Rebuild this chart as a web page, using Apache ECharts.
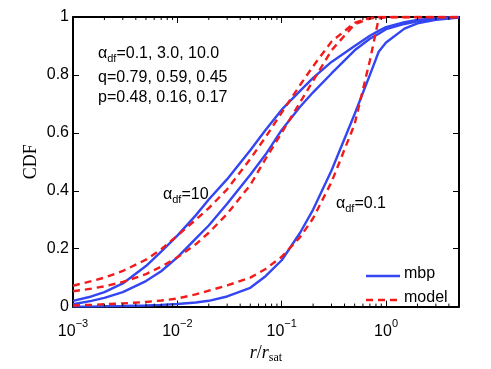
<!DOCTYPE html>
<html>
<head>
<meta charset="utf-8">
<script src="https://cdn.jsdelivr.net/npm/echarts@6/dist/echarts.min.js"></script>
<style>
  html, body { margin: 0; padding: 0; background: #fff; }
  #main { width: 491px; height: 369px; }
</style>
</head>
<body>
<div id="main"></div>
<script>
  // r / r_sat sample positions (shared by all curves)
  var rGrid = [0.001, 0.0015, 0.002, 0.003, 0.005, 0.007,
               0.01, 0.015, 0.02, 0.03, 0.05, 0.07,
               0.1, 0.15, 0.2, 0.3, 0.5, 0.7, 0.85,
               1, 1.5, 2, 3, 5];

  // CDF
  var mbp10   = [0.020, 0.035, 0.050, 0.080, 0.140, 0.190, 0.245, 0.315, 0.370, 0.440, 0.540, 0.610,
                 0.680, 0.745, 0.790, 0.845, 0.900, 0.935, 0.952, 0.965, 0.982, 0.990, 0.996, 1.0];
  var model10 = [0.072, 0.088, 0.100, 0.123, 0.162, 0.198, 0.245, 0.300, 0.340, 0.405, 0.510, 0.585,
                 0.670, 0.765, 0.830, 0.915, 0.980, 0.997, 1.0, 1.0, 1.0, 1.0, 1.0, 1.0];
  var mbp3    = [0.008, 0.020, 0.030, 0.050, 0.088, 0.122, 0.170, 0.235, 0.280, 0.355, 0.455, 0.525,
                 0.610, 0.690, 0.740, 0.805, 0.885, 0.925, 0.942, 0.958, 0.976, 0.985, 0.993, 1.0];
  var model3  = [0.053, 0.062, 0.070, 0.085, 0.112, 0.138, 0.170, 0.215, 0.255, 0.320, 0.420, 0.510,
                 0.600, 0.705, 0.780, 0.885, 0.975, 0.995, 1.0, 1.0, 1.0, 1.0, 1.0, 1.0];
  var mbp01   = [0.0, 0.0, 0.001, 0.002, 0.004, 0.006, 0.009, 0.014, 0.020, 0.035, 0.065, 0.105,
                 0.160, 0.255, 0.335, 0.470, 0.665, 0.800, 0.880, 0.912, 0.960, 0.978, 0.990, 0.998];
  var model01 = [0.004, 0.006, 0.008, 0.011, 0.016, 0.021, 0.028, 0.042, 0.055, 0.073, 0.100, 0.130,
                 0.172, 0.240, 0.305, 0.430, 0.630, 0.850, 0.995, 1.0, 1.0, 1.0, 1.0, 1.0];

  var yTicks = [0, 0.2, 0.4, 0.6, 0.8, 1];
  var decades = [-3, -2, -1, 0];
  var legendNames = ['mbp', 'model'];

  var BLUE = '#3346f2';
  var RED = '#f21b1b';
  var FONT = 'Liberation Sans';
  var SERIF = 'Liberation Serif';
  var DASH = [7, 5];
  var LW = 2.4;

  function pairs(ys) {
    return rGrid.map(function (r, i) { return [r, ys[i]]; });
  }

  // minor ticks 2..9 x 10^n inside the axis range
  var minorTicks = [];
  decades.forEach(function (d) {
    for (var k = 2; k <= 9; k++) {
      var v = k * Math.pow(10, d);
      if (v < 5) minorTicks.push([v, 0]);
    }
  });

  function curve(name, ys, color, dashed) {
    return {
      name: name,
      type: 'line',
      data: pairs(ys),
      showSymbol: false,
      symbol: 'none',
      smooth: false,
      clip: true,
      lineStyle: { color: color, width: LW, type: dashed ? DASH : 'solid' },
      itemStyle: { color: color },
      z: dashed ? 4 : 3
    };
  }

  var subStyle = { fontSize: 11, fontFamily: FONT, color: '#000', padding: [9, 0, 0, 0] };
  var txtStyle = { fontSize: 16, fontFamily: FONT, color: '#000' };

  // legend drawn as plain graphics so the dashed sample looks right
  var legendGraphics = [];
  legendNames.forEach(function (n, i) {
    var y = 276 + i * 24;
    legendGraphics.push({
      type: 'line', z: 10,
      shape: { x1: 366, y1: y, x2: 400, y2: y },
      style: { stroke: i === 0 ? BLUE : RED, lineWidth: LW, lineDash: i === 0 ? null : DASH }
    });
    legendGraphics.push({
      type: 'text', z: 10, left: 404, top: y - 10,
      style: { text: n, fontSize: 16, fontFamily: FONT, fill: '#000' }
    });
  });

  var myChart = echarts.init(document.getElementById('main'));
  myChart.setOption({
    animation: false,
    backgroundColor: '#fff',
    grid: { left: 73, right: 32, top: 17, bottom: 55 },
    xAxis: [{
      type: 'log',
      logBase: 10,
      min: 0.001,
      max: 5,
      position: 'bottom',
      name: '{i|r}{n|/}{i|r}{s|sat}',
      nameLocation: 'middle',
      nameGap: 30,
      nameTextStyle: {
        rich: {
          i: { fontFamily: SERIF, fontStyle: 'italic', fontSize: 18, color: '#000' },
          n: { fontFamily: SERIF, fontSize: 18, color: '#000' },
          s: { fontFamily: SERIF, fontSize: 12, color: '#000', padding: [9, 0, 0, 0] }
        }
      },
      axisLine: { onZero: false, lineStyle: { color: '#000', width: 2 } },
      axisTick: { inside: true, length: 6, lineStyle: { color: '#000', width: 1 } },
      splitLine: { show: false },
      axisLabel: {
        margin: 9,
        formatter: function (v) {
          var e = Math.log10(v);
          if (Math.abs(e - Math.round(e)) > 1e-6) return '';
          e = Math.round(e);
          return '{b|10}{p|' + (e < 0 ? '\u2212' + (-e) : e) + '}';
        },
        rich: {
          b: { fontSize: 16, fontFamily: FONT, color: '#000', padding: [8, 0, 0, 0] },
          p: { fontSize: 11, fontFamily: FONT, color: '#000', padding: [0, 0, 8, 0] }
        }
      }
    }, {
      type: 'log',
      logBase: 10,
      min: 0.001,
      max: 5,
      position: 'top',
      axisLine: { onZero: false, lineStyle: { color: '#000', width: 2 } },
      axisTick: { inside: true, length: 6, lineStyle: { color: '#000', width: 1 } },
      axisLabel: { show: false },
      splitLine: { show: false }
    }],
    yAxis: [{
      type: 'value',
      min: 0,
      max: 1,
      interval: 0.2,
      position: 'left',
      name: 'CDF',
      nameLocation: 'middle',
      nameGap: 33,
      nameMoveOverlap: false,
      nameTextStyle: { fontFamily: SERIF, fontSize: 18, color: '#000' },
      axisLine: { show: true, onZero: false, lineStyle: { color: '#000', width: 2 } },
      axisTick: { show: true, inside: true, length: 6, lineStyle: { color: '#000', width: 1 } },
      splitLine: { show: false },
      axisLabel: {
        margin: 4,
        fontSize: 16,
        fontFamily: FONT,
        color: '#000',
        formatter: function (v) {
          for (var i = 0; i < yTicks.length; i++) {
            if (Math.abs(yTicks[i] - v) < 1e-9) return String(yTicks[i]);
          }
          return '';
        }
      }
    }, {
      type: 'value',
      min: 0,
      max: 1,
      interval: 0.2,
      position: 'right',
      axisLine: { show: true, onZero: false, lineStyle: { color: '#000', width: 2 } },
      axisTick: { show: true, inside: true, length: 6, lineStyle: { color: '#000', width: 1 } },
      axisLabel: { show: false },
      splitLine: { show: false }
    }],
    graphic: [
      {
        type: 'text', left: 98, top: 46, z: 10,
        style: { text: '{a|\u03b1}{s|df}{a|=0.1, 3.0, 10.0}', rich: { a: txtStyle, s: subStyle } }
      },
      {
        type: 'text', left: 98, top: 70, z: 10,
        style: { text: 'q=0.79, 0.59, 0.45', fontSize: 16, fontFamily: FONT, fill: '#000' }
      },
      {
        type: 'text', left: 98, top: 90, z: 10,
        style: { text: 'p=0.48, 0.16, 0.17', fontSize: 16, fontFamily: FONT, fill: '#000' }
      },
      {
        type: 'text', left: 163, top: 187, z: 10,
        style: { text: '{a|\u03b1}{s|df}{a|=10}', rich: { a: txtStyle, s: subStyle } }
      },
      {
        type: 'text', left: 336, top: 196, z: 10,
        style: { text: '{a|\u03b1}{s|df}{a|=0.1}', rich: { a: txtStyle, s: subStyle } }
      }
    ].concat(legendGraphics),
    series: [
      curve('mbp', mbp10, BLUE, false),
      curve('mbp', mbp3, BLUE, false),
      curve('mbp', mbp01, BLUE, false),
      curve('model', model10, RED, true),
      curve('model', model3, RED, true),
      curve('model', model01, RED, true),
      {
        type: 'custom',
        silent: true,
        data: minorTicks,
        z: 5,
        renderItem: function (params, api) {
          var v = api.value(0);
          var b = api.coord([v, 0]);
          var t = api.coord([v, 1]);
          return {
            type: 'group',
            children: [
              { type: 'line', shape: { x1: b[0], y1: b[1], x2: b[0], y2: b[1] - 3 }, style: { stroke: '#000', lineWidth: 1 } },
              { type: 'line', shape: { x1: t[0], y1: t[1], x2: t[0], y2: t[1] + 3 }, style: { stroke: '#000', lineWidth: 1 } }
            ]
          };
        }
      }
    ]
  });
</script>
</body>
</html>
